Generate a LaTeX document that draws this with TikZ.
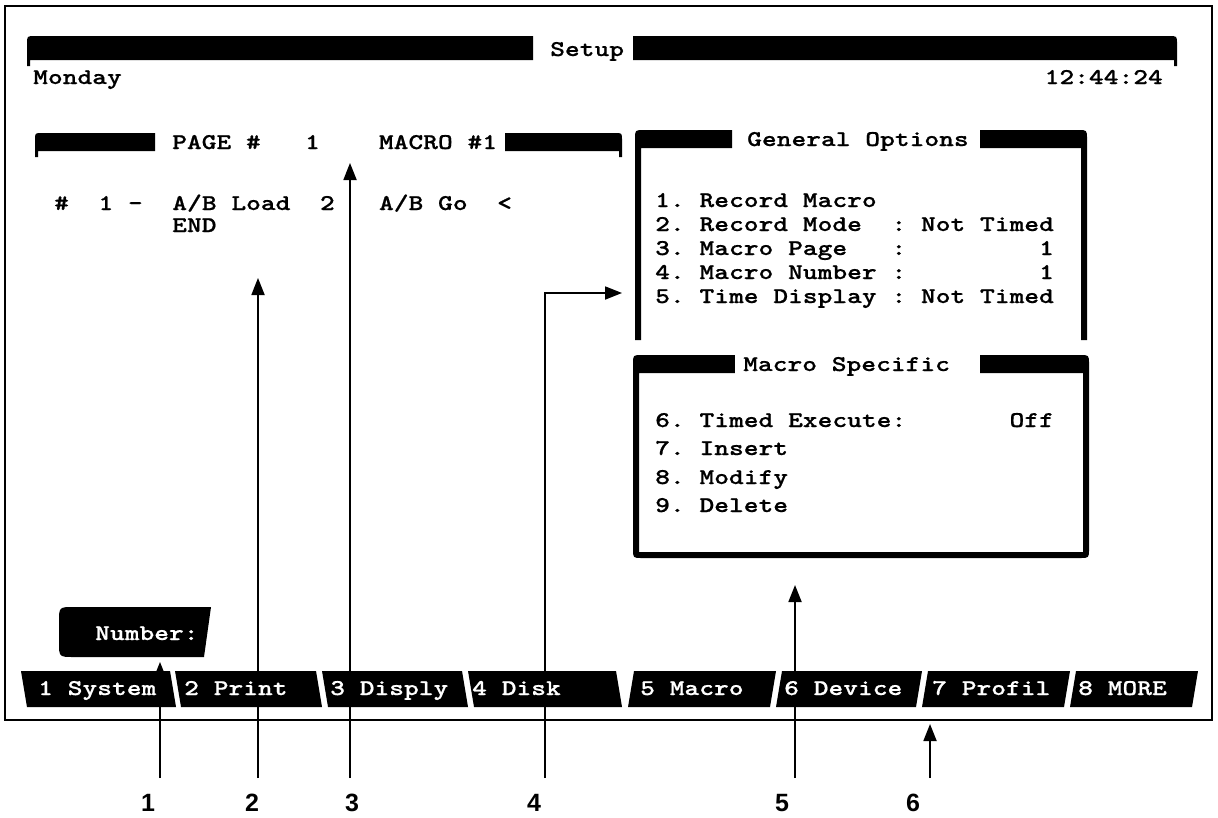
\documentclass[tikz,border=0pt]{standalone}
\usepackage{fontspec}
\usepackage{graphicx}
\usetikzlibrary{arrows.meta}

\newfontfamily\calloutfont{Liberation Sans}
\newfontfamily\crtfont{lmmonolt10-bold.otf}[FakeBold=0.6]
\newcommand{\crt}[1]{\scalebox{1.25}[1]{#1}}

\tikzset{
  scr/.style={font=\fontsize{22.5}{26}\selectfont\crtfont, inner sep=0pt, anchor=base west},
  scrw/.style={scr, text=white},
  callout/.style={line width=1.8pt, -{Triangle[length=17pt,width=13pt]}},
  marker/.style={font=\fontsize{25}{30}\selectfont\calloutfont\bfseries, inner sep=0pt},
}

\begin{document}
\begin{tikzpicture}[x=1pt,y=-1pt]
  \useasboundingbox (0,0) rectangle (1218,817);
  \draw[line width=1.2pt] (5,6) rectangle (1212,720);

  % callouts
  \coordinate (s1) at (160,778); \coordinate (t1) at (160,662);
  \coordinate (s2) at (258,778); \coordinate (t2) at (258,278);
  \coordinate (s3) at (350,778); \coordinate (t3) at (350,163);
  \coordinate (s4) at (545,778); \coordinate (t4) at (622,293);
  \coordinate (s5) at (795,778); \coordinate (t5) at (795,585);
  \coordinate (s6) at (930,778); \coordinate (t6) at (930,724);
  \draw[callout] (s1) -- (t1);
  \draw[callout] (s2) -- (t2);
  \draw[callout] (s3) -- (t3);
  \draw[callout] (s4) |- (t4);
  \draw[callout] (s5) -- (t5);
  \draw[callout] (s6) -- (t6);
  \node[marker] (m1) at (148,803) {1};
  \node[marker] (m2) at (252,803) {2};
  \node[marker] (m3) at (352,803) {3};
  \node[marker] (m4) at (534,803) {4};
  \node[marker] (m5) at (782,803) {5};
  \node[marker] (m6) at (913,803) {6};

  % title bar
  \fill (533,60) -- (533,36) -- (35,36) .. controls (27,36) .. (27,44) -- (27,66) -- (30,66) -- (30,60) -- cycle;
  \fill (633,60) -- (633,36) -- (1169,36) .. controls (1177,36) .. (1177,44) -- (1177,66) -- (1174,66) -- (1174,60) -- cycle;
  \node[scr] (title) at (550,56) {\crt{Setup}};
  \node[scr] (day) at (33,84) {\crt{Monday}};
  \node[scr, anchor=base east] (clock) at (1163,84) {\crt{12:44:24}};

  % macro page
  \fill (155,151) -- (155,133) -- (42,133) .. controls (35,133) .. (35,140) -- (35,157) -- (38,157) -- (38,151) -- cycle;
  \fill (505,151) -- (505,133) -- (615,133) .. controls (622,133) .. (622,140) -- (622,157) -- (619,157) -- (619,151) -- cycle;
  \node[scr] (pagehdr) at (172,149) {\crt{PAGE~\#~~~1~~~~MACRO~\#1}};
  \node[scr] (entry) at (54,210) {\crt{\#~~1~-~~A/B~Load~~2~~~A/B~Go~~<}};
  \node[scr] (entryend) at (172,232) {\crt{END}};

  % general options
  \fill (732,148) -- (732,130) -- (644,130) .. controls (635,130) .. (635,139) -- (635,340) -- (641,340) -- (641,148) -- cycle;
  \fill (980,148) -- (980,130) -- (1078,130) .. controls (1087,130) .. (1087,139) -- (1087,340) -- (1081,340) -- (1081,148) -- cycle;
  \node[scr] (gotitle) at (747,146) {\crt{General Options}};
  \node[scr] (go1) at (655,207) {\crt{1.~Record~Macro}};
  \node[scr] (go2) at (655,231) {\crt{2.~Record~Mode~~:~Not~Timed}};
  \node[scr] (go3) at (655,255) {\crt{3.~Macro~Page~~~:~~~~~~~~~1}};
  \node[scr] (go4) at (655,279) {\crt{4.~Macro~Number~:~~~~~~~~~1}};
  \node[scr] (go5) at (655,303) {\crt{5.~Time~Display~:~Not~Timed}};

  % macro specific
  \fill[even odd rule] (642,355) .. controls (633,355) .. (633,364) -- (633,549) .. controls (633,558) .. (642,558) -- (1080,558) .. controls (1089,558) .. (1089,549) -- (1089,364) .. controls (1089,355) .. (1080,355) -- cycle (639,373) rectangle (1083,552);
  \fill[white] (735,354) rectangle (980,374);
  \node[scr] (mstitle) at (743,371) {\crt{Macro Specific}};
  \node[scr] (ms6) at (655,427) {\crt{6.~Timed~Execute:~~~~~~~Off}};
  \node[scr] (ms7) at (655,455) {\crt{7.~Insert}};
  \node[scr] (ms8) at (655,484) {\crt{8.~Modify}};
  \node[scr] (ms9) at (655,512) {\crt{9.~Delete}};

  % prompt
  \fill (211,607) -- (74,607) .. controls (59,607) .. (59,622) -- (59,642) .. controls (59,657) .. (74,657) -- (204,657) -- cycle;
  \node[scrw] (prompt) at (95,640) {\crt{Number:}};

  % function keys
  \foreach \n/\lt/\rt/\sk/\tx/\lbl in {1/21/170/6/38/1 System, 2/175/316/6/184/2 Print,
      3/322/462/6/330/3 Disply, 4/468/616/6/472/4 Disk, 5/634/776/-6/640/5 Macro,
      6/782/922/-6/784/6 Device, 7/928/1070/-6/932/7 Profil, 8/1076/1198/-6/1078/8 MORE}{
    \fill (\lt,671) -- (\rt,671) -- ({\rt+(\sk)},707) -- ({\lt+(\sk)},707) -- cycle;
    \node[scrw] (key\n) at (\tx,695) {\crt{\lbl}};
  }
\end{tikzpicture}
\end{document}
